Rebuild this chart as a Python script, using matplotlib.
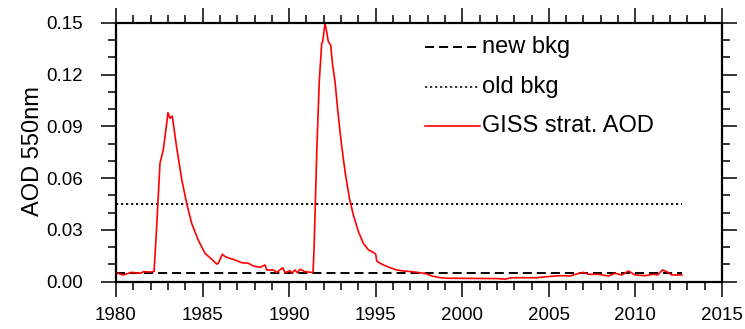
import matplotlib
matplotlib.use("Agg")
import matplotlib.pyplot as plt
from matplotlib.ticker import MultipleLocator, FormatStrFormatter

plt.rcParams['font.family'] = ['Liberation Sans', 'DejaVu Sans']
plt.rcParams['lines.scale_dashes'] = False

# GISS stratospheric aerosol optical depth at 550 nm
years = [1980.0, 1980.4, 1980.9, 1981.4, 1981.6, 1982.0, 1982.2, 1982.35,
         1982.54, 1982.73, 1982.93, 1983.0, 1983.12, 1983.25, 1983.5, 1983.8,
         1984.08, 1984.37, 1984.75, 1985.14, 1985.53, 1985.82, 1985.91, 1986.14,
         1986.3, 1986.59, 1986.87, 1987.26, 1987.64, 1987.93, 1988.32, 1988.61,
         1988.7, 1989.09, 1989.28, 1989.63, 1989.76, 1990.05, 1990.15, 1990.34,
         1990.47, 1990.63, 1990.92, 1991.3, 1991.38, 1991.44, 1991.6, 1991.74,
         1991.88, 1991.94, 1992.07, 1992.17, 1992.26, 1992.4, 1992.51, 1992.65,
         1992.78, 1992.94, 1993.03, 1993.23, 1993.48, 1993.71, 1994.0, 1994.29,
         1994.58, 1994.86, 1995.0, 1995.06, 1995.25, 1995.54, 1995.83, 1996.21,
         1996.6, 1997.08, 1997.56, 1997.95, 1998.24, 1998.62, 1999.1, 2000.5,
         2002.0, 2002.47, 2002.86, 2004.3, 2004.88, 2005.65, 2006.23, 2006.6,
         2007.0, 2007.29, 2007.86, 2008.44, 2008.83, 2009.21, 2009.6, 2009.98,
         2010.56, 2011.04, 2011.29, 2011.56, 2011.81, 2012.1, 2012.68]
giss_aod = [0.0052, 0.0039, 0.0054, 0.0049, 0.0058, 0.0056, 0.0060, 0.0320,
            0.0686, 0.0763, 0.0917, 0.0979, 0.0946, 0.0959, 0.0780, 0.0590,
            0.0454, 0.0338, 0.0241, 0.0164, 0.0130, 0.0102, 0.0107, 0.0159,
            0.0145, 0.0135, 0.0126, 0.0110, 0.0107, 0.0091, 0.0083, 0.0097,
            0.0068, 0.0068, 0.0054, 0.0081, 0.0052, 0.0064, 0.0049, 0.0068,
            0.0052, 0.0072, 0.0058, 0.0054, 0.0056, 0.0190, 0.0770, 0.1160,
            0.1380, 0.1390, 0.1496, 0.1448, 0.1390, 0.1370, 0.1255, 0.1160,
            0.1020, 0.0869, 0.0790, 0.0637, 0.0483, 0.0386, 0.0290, 0.0222,
            0.0184, 0.0170, 0.0159, 0.0120, 0.0107, 0.0093, 0.0081, 0.0068,
            0.0062, 0.0058, 0.0052, 0.0045, 0.0033, 0.0025, 0.0020, 0.0019,
            0.0018, 0.0015, 0.0023, 0.0023, 0.0029, 0.0035, 0.0033, 0.0045,
            0.0054, 0.0043, 0.0043, 0.0033, 0.0049, 0.0039, 0.0062, 0.0039,
            0.0035, 0.0043, 0.0039, 0.0068, 0.0058, 0.0039, 0.0039]

new_bkg = 0.0048
old_bkg = 0.045

labels = ["new bkg", "old bkg", "GISS strat. AOD"]

fig = plt.figure(figsize=(7.45, 3.29), dpi=100)
ax = fig.add_axes([116 / 745, 1 - 281.7 / 329, 606 / 745, 259 / 329])

t0, t1 = years[0], years[-1]
dash = (0, (6.5, 3.6))
dot = (0, (1.6, 2.0))
ax.plot([t0, t1], [new_bkg, new_bkg], color='black', lw=1.4, linestyle=dash)
ax.plot([t0, t1], [old_bkg, old_bkg], color='black', lw=1.3, linestyle=dot)
ax.plot(years, giss_aod, color='red', lw=1.2)

ax.set_xlim(1980, 2015)
ax.set_ylim(0, 0.15)
ax.xaxis.set_major_locator(MultipleLocator(5))
ax.xaxis.set_minor_locator(MultipleLocator(1))
ax.yaxis.set_major_locator(MultipleLocator(0.03))
ax.yaxis.set_minor_locator(MultipleLocator(0.01))
ax.yaxis.set_major_formatter(FormatStrFormatter('%.2f'))

ax.tick_params(which='both', direction='out', top=True, right=True,
               labelsize=13.5, width=1.1, color='black')
ax.tick_params(which='major', length=11)
ax.tick_params(which='minor', length=6)
ax.tick_params(axis='x', which='major', pad=7)
ax.tick_params(axis='y', which='major', pad=13)
for s in ax.spines.values():
    s.set_linewidth(1.6)

ax.set_ylabel("AOD 550nm", fontsize=17)
ax.yaxis.set_label_coords(-0.118, 0.505)

# legend drawn by hand, no frame
styles = [dict(color='black', lw=1.4, linestyle=dash),
          dict(color='black', lw=1.1, linestyle=dot),
          dict(color='red', lw=1.2)]
rows = [0.907, 0.7506, 0.601]
for lab, st, yy in zip(labels, styles, rows):
    ax.plot([0.51, 0.6007], [yy, yy], transform=ax.transAxes, **st)
    ax.text(0.604, yy, lab, transform=ax.transAxes, fontsize=17,
            va='center', ha='left')

fig.savefig("out.png", dpi=100)
